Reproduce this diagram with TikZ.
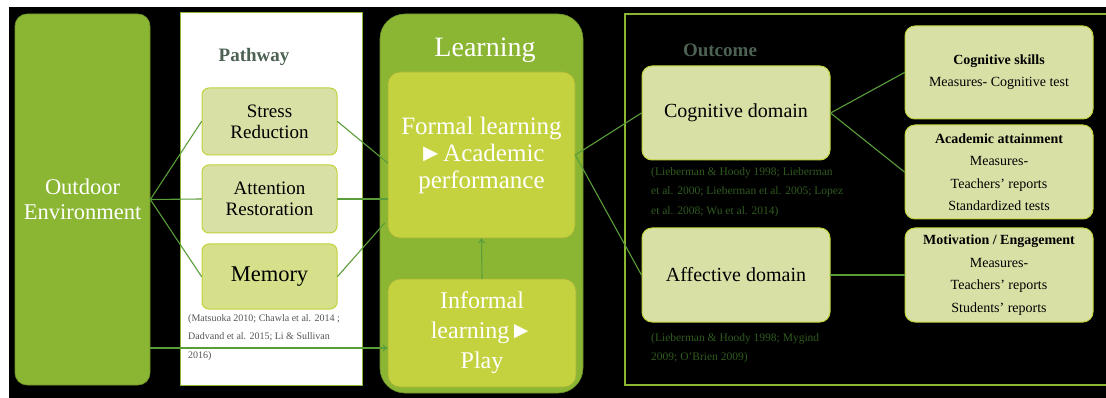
\documentclass[tikz,border=0pt]{standalone}
\usepackage{fontspec}
\setmainfont{Liberation Serif}
\usetikzlibrary{arrows.meta}
\usetikzlibrary{calc}

\definecolor{leafgreen}{HTML}{8BB634}
\definecolor{limefill}{HTML}{C5D23F}
\definecolor{palefill}{HTML}{D9E0A6}
\definecolor{memfill}{HTML}{D6E08B}
\definecolor{paleedge}{HTML}{C3D23A}
\definecolor{linkgreen}{HTML}{5A9E3A}
\definecolor{headgray}{HTML}{4D6253}
\definecolor{citegreen}{HTML}{2F5B1E}
\definecolor{citegray}{HTML}{555555}

\begin{document}
\begin{tikzpicture}[x=1pt, y=-1pt, line cap=round,
    panel/.style={fill=leafgreen, draw=leafgreen!80!black, line width=0.6pt, inner sep=0pt},
    paleblock/.style={rounded corners=7pt, fill=palefill, draw=paleedge, line width=1pt,
      inner sep=0pt, align=center, text=black},
    limeblock/.style={rounded corners=12pt, fill=limefill, draw=limefill!85!black, line width=0.6pt,
      inner sep=0pt, align=center, text=white},
    link/.style={draw=linkgreen, line width=1.1pt},
    cite/.style={anchor=north west, inner sep=0pt, align=left}]

    % background
    \fill[white] (0,0) rectangle (1106,398);
    \fill[black] (9,7) rectangle (1106,398);
    \useasboundingbox (0,0) rectangle (1106,398);

    % panels
    \node[panel, rounded corners=12pt, minimum width=135pt, minimum height=371pt,
      text=white, align=center, font={\fontsize{22.5}{25}\selectfont}]
      (outdoor) at (82.5,199.5) {Outdoor\\Environment};
    \node[fill=white, draw=leafgreen, line width=1pt, minimum width=182pt, minimum height=372pt,
      inner sep=0pt] (pathpanel) at (271,199) {};
    \node[panel, rounded corners=25pt, minimum width=203pt, minimum height=379pt]
      (learnpanel) at (481.5,203.5) {};
    \draw[leafgreen, line width=1.2pt] (1120,14) -- (625,14) -- (625,385) -- (1120,385);

    % titles
    \node[text=headgray, font={\bfseries\fontsize{19}{21}\selectfont}] (pathtitle) at (254,57) {Pathway};
    \node[text=white, font={\fontsize{28}{30}\selectfont}] (learntitle) at (485,50) {Learning};
    \node[text=headgray, font={\bfseries\fontsize{19}{21}\selectfont}] (outtitle) at (720,50) {Outcome};

    % pathway
    \node[paleblock, minimum width=135pt, minimum height=67pt, font={\fontsize{19}{21}\selectfont}]
      (stress) at (269.5,121.5) {Stress\\Reduction};
    \node[paleblock, minimum width=135pt, minimum height=68pt, font={\fontsize{19}{21}\selectfont}]
      (attention) at (269.5,199) {Attention\\Restoration};
    \node[paleblock, fill=memfill, minimum width=135pt, minimum height=65pt, font={\fontsize{22.5}{25}\selectfont}]
      (memory) at (269.5,276.5) {Memory};
    \node[cite, text=citegray, font={\fontsize{10}{18.5}\selectfont}] (pathcite) at (188,314)
      {(Matsuoka 2010; Chawla et al. 2014 ;\\Dadvand et al. 2015; Li \& Sullivan\\2016)};

    % learning
    \node[limeblock, minimum width=187pt, minimum height=166pt, font={\fontsize{25}{27}\selectfont}]
      (formal) at (481.5,155) {Formal learning\\►Academic\\performance};
    \node[limeblock, minimum width=188pt, minimum height=108pt, font={\fontsize{24}{30}\selectfont}]
      (informal) at (482,333) {Informal\\learning►\\Play};

    % outcome
    \node[paleblock, rounded corners=10pt, minimum width=188pt, minimum height=94pt, font={\fontsize{20}{22}\selectfont}]
      (cognitive) at (736,113) {Cognitive domain};
    \node[cite, text=citegreen, font={\fontsize{11.5}{19.5}\selectfont}] (cogcite) at (651,167)
      {(Lieberman \& Hoody 1998; Lieberman\\et al. 2000; Lieberman et al. 2005; Lopez\\et al. 2008; Wu et al. 2014)};
    \node[paleblock, rounded corners=10pt, minimum width=188pt, minimum height=94pt, font={\fontsize{20}{22}\selectfont}]
      (affective) at (736,275) {Affective domain};
    \node[cite, text=citegreen, font={\fontsize{11.5}{19.5}\selectfont}] (affcite) at (651,333)
      {(Lieberman \& Hoody 1998; Mygind\\2009; O’Brien 2009)};

    \node[paleblock, rounded corners=10pt, minimum width=188pt, minimum height=93pt, font={\fontsize{14}{22}\selectfont}]
      (cogskills) at (999,72.5) {\textbf{Cognitive skills}\\Measures- Cognitive test};
    \node[paleblock, rounded corners=10pt, minimum width=188pt, minimum height=94pt, font={\fontsize{14}{22.5}\selectfont}]
      (academic) at (999,172) {\textbf{Academic attainment}\\Measures-\\Teachers’ reports\\Standardized tests};
    \node[paleblock, rounded corners=10pt, minimum width=188pt, minimum height=94pt, font={\fontsize{14}{22.5}\selectfont}]
      (motivation) at (999,275) {\textbf{Motivation / Engagement}\\Measures-\\Teachers’ reports\\Students’ reports};

    % connectors
    \coordinate (playin) at ($(informal.west)+(0,15)$);
    \draw[link] (outdoor.east) -- (stress.west);
    \draw[link] (outdoor.east) -- (attention.west);
    \draw[link] (outdoor.east) -- (memory.west);
    \draw[link, -{To[length=5pt, width=7pt]}] (outdoor.east |- playin) -- (playin);
    \draw[link] (stress.east) -- ($(formal.west)+(0,8)$);
    \draw[link] (attention.east) -- ($(formal.west)+(0,44)$);
    \draw[link] (memory.east) -- ($(formal.west)+(-3,68)$);
    \draw[link, -{To[length=5pt, width=7pt]}] (informal.north) -- (formal.south);
    \draw[link] (formal.east) -- (cognitive.west);
    \draw[link] (formal.east) -- (affective.west);
    \draw[link] (cognitive.east) -- (cogskills.west);
    \draw[link] (cognitive.east) -- (academic.west);
    \draw[link] (affective.east) -- (motivation.west);
\end{tikzpicture}
\end{document}
